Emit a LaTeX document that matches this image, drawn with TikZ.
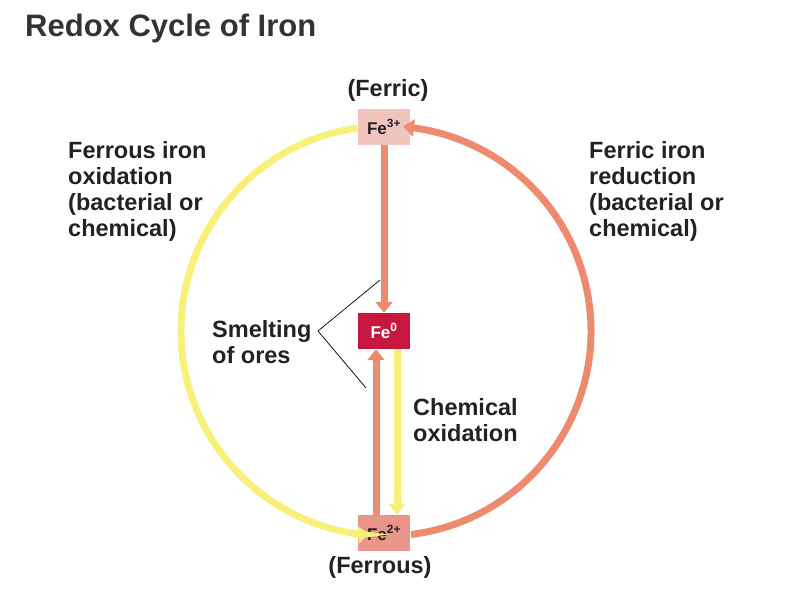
\documentclass[tikz,border=0pt]{standalone}
\usepackage{fontspec}
\setmainfont{Liberation Sans}
\usetikzlibrary{arrows.meta}
\definecolor{yel}{HTML}{F8F07A}
\definecolor{org}{HTML}{EE8A6E}
\definecolor{fethree}{HTML}{F2C4BE}
\definecolor{fezero}{HTML}{C8173F}
\definecolor{fetwo}{HTML}{E8958A}
\definecolor{txt}{HTML}{222222}
\begin{document}
\begin{tikzpicture}[x=1pt,y=-1pt,
  lbl/.style={font=\fontsize{23.5}{26}\selectfont\bfseries,text=txt,align=left,anchor=north west,inner sep=0pt},
  febox/.style={minimum width=52pt,minimum height=36pt,inner sep=0pt,font=\fontsize{17}{17}\selectfont\bfseries},
  arr/.style={line width=7pt,-{Triangle[length=11pt,width=17pt]}}]
\useasboundingbox (0,0) rectangle (792,612);
\node[anchor=west,font=\fontsize{31}{31}\selectfont\bfseries,text=black!80,inner sep=0pt] (title) at (25,28) {Redox Cycle of Iron};
\node[febox,fill=fethree,text=txt] (f3) at (384,127) {Fe\textsuperscript{3+}};
\node[febox,fill=fezero,text=white] (f0) at (384,331) {Fe\textsuperscript{0}};
\node[febox,fill=fetwo,text=txt] (f2) at (384,533) {Fe\textsuperscript{2+}};
\node[font=\fontsize{23.5}{23.5}\selectfont\bfseries,text=txt] (ferric) at (388,90) {(Ferric)};
\node[font=\fontsize{23.5}{23.5}\selectfont\bfseries,text=txt] (ferrous) at (380,567) {(Ferrous)};
\node[lbl] (lt) at (68,141) {Ferrous iron\\oxidation\\(bacterial or\\chemical)};
\node[lbl] (rt) at (589,141) {Ferric iron\\reduction\\(bacterial or\\chemical)};
\node[lbl] (sm) at (212,320) {Smelting\\of ores};
\node[lbl] (co) at (413,398) {Chemical\\oxidation};
% arcs
\coordinate (c) at (386,331);
\draw[arr,draw=yel] ([shift={(262:205)}]c) arc[start angle=262,end angle=97,radius=205] -- ++(8,-1) coordinate (ye);
\draw[arr,draw=org] ([shift={(83:205)}]c) arc[start angle=83,end angle=-83,radius=205] -- ++(-8,-1) coordinate (oe);
% vertical
\draw[arr,draw=org] (f3.south) -- (f0.north);
\draw[arr,draw=org] ([xshift=-8pt]f2.north) -- ([xshift=-8pt]f0.south);
\draw[arr,draw=yel] ([xshift=13pt]f0.south) -- ([xshift=13pt]f2.north);
% smelting lines
\coordinate (s1) at (380,280);
\coordinate (s2) at (366,388);
\coordinate (sa) at (318,331);
\draw[black,line width=0.7pt] (s1) -- (sa) -- (s2);
\end{tikzpicture}
\end{document}
